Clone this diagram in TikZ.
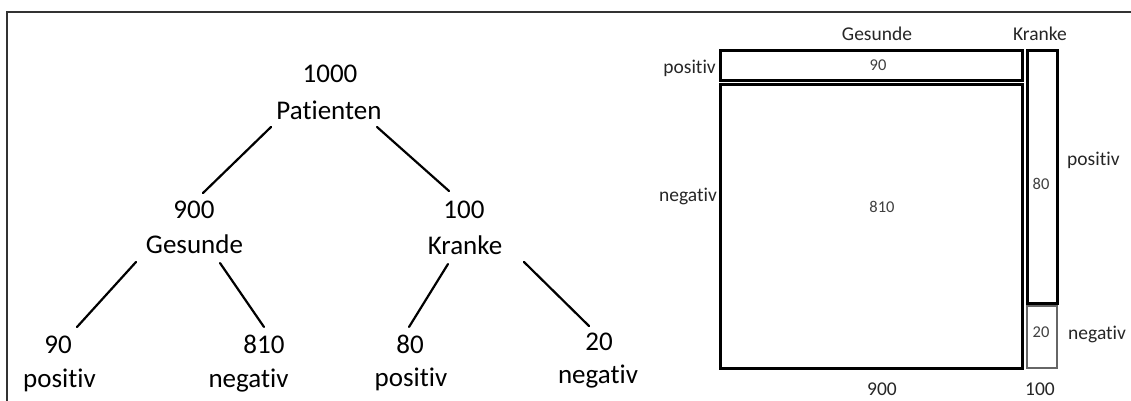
\documentclass[tikz,border=0pt]{standalone}
\usepackage{fontspec}
\setmainfont{Carlito}[Ligatures={NoCommon}]
\begin{document}
\begin{tikzpicture}[x=1pt,y=-1pt,
  treetext/.style={anchor=base,inner sep=0pt,font=\fontsize{27}{30}\selectfont,text=black},
  branch/.style={line width=2.2pt,black,line cap=round},
  lab/.style={anchor=base,inner sep=0pt,font=\fontsize{19.5}{22}\selectfont,text=black!85},
  num/.style={anchor=base,inner sep=0pt,font=\fontsize{16.5}{18}\selectfont,text=black!75},
  cell/.style={draw=black,line width=3pt,inner sep=0pt,rectangle},
  graycell/.style={draw=black!60,line width=2pt,inner sep=0pt,rectangle},
  frame/.style={draw=black!80,line width=1.5pt}]
\useasboundingbox (0,0) rectangle (1131,401);
\fill[white] (0,0) rectangle (1131,401);
\draw[frame] (7,401) -- (7,12) -- (1131,12);

% tree
\node[treetext] (n1000) at (330,83) {1000};
\node[treetext] (pat) at (329,119) {Patienten};
\node[treetext] (n900) at (194,218) {900};
\node[treetext] (ges) at (194.5,253) {Gesunde};
\node[treetext] (n100) at (464,218) {100};
\node[treetext] (kra) at (465,254) {Kranke};
\node[treetext] (n90) at (58,353) {90};
\node[treetext] (pos1) at (59.5,387) {positiv};
\node[treetext] (n810) at (264,353) {810};
\node[treetext] (neg1) at (248.5,387) {negativ};
\node[treetext] (n80) at (410,353) {80};
\node[treetext] (pos2) at (411,386) {positiv};
\node[treetext] (n20) at (599,350) {20};
\node[treetext] (neg2) at (598,383) {negativ};

\draw[branch] ([shift={(-58,8)}]pat.base) -- ([shift={(9,-25)}]n900.base);
\draw[branch] ([shift={(48,8)}]pat.base) -- ([shift={(-15,-27)}]n100.base);
\draw[branch] ([shift={(-58.5,9)}]ges.base) -- ([shift={(19,-26)}]n90.base);
\draw[branch] ([shift={(25.5,10)}]ges.base) -- ([shift={(0,-26)}]n810.base);
\draw[branch] ([shift={(-17,10)}]kra.base) -- ([shift={(-1,-26)}]n80.base);
\draw[branch] ([shift={(59,8)}]kra.base) -- ([shift={(-10,-24)}]n20.base);

% area diagram
\node[cell,minimum width=302pt,minimum height=30pt] (c90) at (871,66) {};
\node[cell,minimum width=302pt,minimum height=283pt] (c810) at (871,226.5) {};
\node[cell,minimum width=30pt,minimum height=252pt] (c80) at (1042,177) {};
\node[graycell,minimum width=30pt,minimum height=62pt] (c20) at (1042,337) {};

\node[num] (t90) at (878,71) {90};
\node[num] (t810) at (882,212) {810};
\node[num] (t80) at (1041,189) {80};
\node[num] (t20) at (1041,337) {20};

\node[lab] (hges) at (877,41) {Gesunde};
\node[lab] (hkra) at (1040,41) {Kranke};
\node[lab,anchor=base east] (lpos) at (716,74) {positiv};
\node[lab,anchor=base east] (lneg) at (717,201) {negativ};
\node[lab,anchor=base west] (rpos) at (1067,165) {positiv};
\node[lab,anchor=base west] (rneg) at (1068,339) {negativ};
\node[lab] (b900) at (882,395) {900};
\node[lab] (b100) at (1040,395) {100};
\end{tikzpicture}
\end{document}
